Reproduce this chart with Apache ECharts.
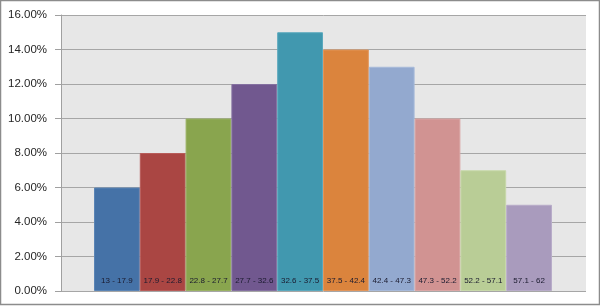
<!DOCTYPE html>
<html><head><meta charset="utf-8">
<script src="https://cdn.jsdelivr.net/npm/echarts@6/dist/echarts.min.js"></script>
<style>html,body{margin:0;padding:0;background:#fff}#c{width:600px;height:306px}</style>
</head><body><div id="c"></div>
<script>
const categories = ["13 - 17.9","17.9 - 22.8","22.8 - 27.7","27.7 - 32.6","32.6 - 37.5","37.5 - 42.4","42.4 - 47.3","47.3 - 52.2","52.2 - 57.1","57.1 - 62"];
const values = [0.06,0.08,0.10,0.12,0.15,0.14,0.13,0.10,0.07,0.05];
const colors = ["#4572A7","#AA4643","#89A54E","#71588F","#4198AF","#DB843D","#93A9CF","#D19392","#B9CD96","#A99BBD"];
const borders = ["#5a84b5","#b85c59","#9ab263","#8470a0","#5aa8bd","#e2955a","#a6b9d9","#dba6a5","#c7d8a9","#b8acc9"];
const yTicks = {min:0, max:0.16, interval:0.02};

const chart = echarts.init(document.getElementById('c'), null, {renderer:'canvas'});
chart.setOption({
  animation:false,
  backgroundColor:'#fff',
  graphic:[{type:'rect', shape:{x:0.5,y:0.5,width:599,height:304}, style:{fill:'none', stroke:'#8c8c8c', lineWidth:1.5}, z:100}],
  grid:[
    {left:61, right:14, top:15, bottom:15, show:true, backgroundColor:'#e7e7e7', borderWidth:0},
    {left:94, right:48, top:15, bottom:15}
  ],
  xAxis:[
    {type:'category', gridIndex:0, data:[''], show:false},
    {type:'category', gridIndex:1, data:categories, show:false, boundaryGap:true}
  ],
  yAxis:[
    {type:'value', gridIndex:0, min:yTicks.min, max:yTicks.max, interval:yTicks.interval,
     axisLine:{show:true, lineStyle:{color:'#a0a0a0', width:1}},
     axisTick:{show:true, inside:false, length:6, lineStyle:{color:'#a0a0a0'}},
     splitLine:{show:true, lineStyle:{color:'#a6a6a6', width:1}},
     axisLabel:{margin:14, color:'#262626', fontSize:11.5, fontFamily:'Liberation Sans, Arial, sans-serif',
       formatter:v=>(v*100).toFixed(2)+'%'}},
    {type:'value', gridIndex:1, min:yTicks.min, max:yTicks.max, show:false, splitLine:{show:false}}
  ],
  series:[{
    type:'bar', xAxisIndex:1, yAxisIndex:1, barWidth:'100%', barGap:'0%',
    data: values.map((v,i)=>({value:v, itemStyle:{color:colors[i], borderColor:borders[i], borderWidth:1}})),
    label:{show:true, position:'insideBottom', distance:6, color:'#1a1a2e', fontSize:8,
      fontFamily:'Liberation Sans, Arial, sans-serif', formatter:p=>categories[p.dataIndex]}
  }]
});
</script></body></html>
